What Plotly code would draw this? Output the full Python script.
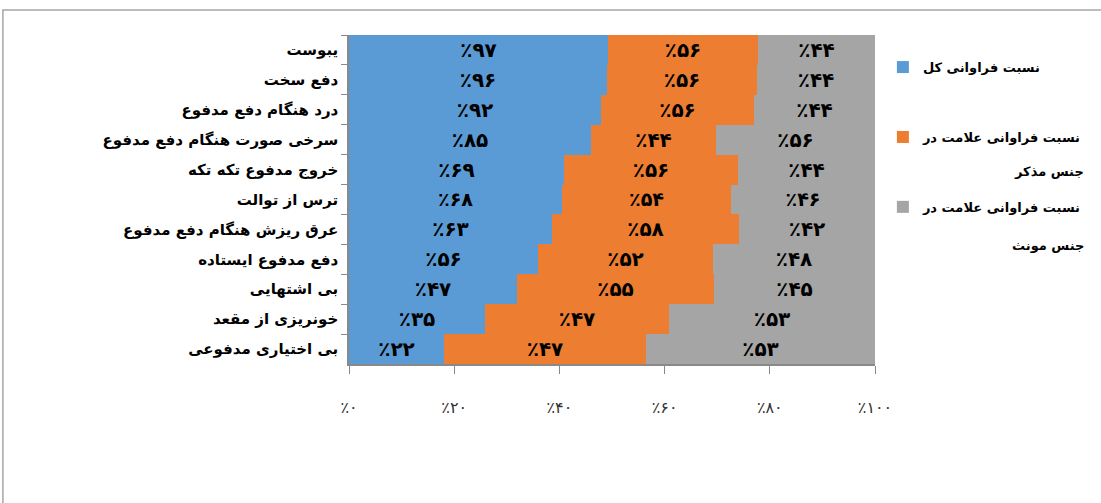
import plotly.graph_objects as go

# Symptoms (top to bottom) and frequencies per group
categories = [
    "یبوست",
    "دفع سخت",
    "درد هنگام دفع مدفوع",
    "سرخی صورت هنگام دفع مدفوع",
    "خروج مدفوع تکه تکه",
    "ترس از توالت",
    "عرق ریزش هنگام دفع مدفوع",
    "دفع مدفوع ایستاده",
    "بی اشتهایی",
    "خونریزی از مقعد",
    "بی اختیاری مدفوعی",
]
total_pct = [97, 96, 92, 85, 69, 68, 63, 56, 47, 35, 22]
male_pct = [56, 56, 56, 44, 56, 54, 58, 52, 55, 47, 47]
female_pct = [44, 44, 44, 56, 44, 46, 42, 48, 45, 53, 53]

series_names = [
    "نسبت فراوانی کل",
    "نسبت فراوانی علامت در",
    "نسبت فراوانی علامت در",
]
series_second_lines = ["", "جنس مذکر", "جنس مونث"]
x_ticks = [0, 20, 40, 60, 80, 100]

colors = ["#5B9BD5", "#ED7D31", "#A5A5A5"]

FA_DIGITS = str.maketrans("0123456789", "۰۱۲۳۴۵۶۷۸۹")


def fa_pct(v):
    return "٪" + str(v).translate(FA_DIGITS)


FONT = "DejaVu Sans"

fig = go.Figure()
for i, vals in enumerate([total_pct, male_pct, female_pct]):
    fig.add_trace(go.Bar(
        y=categories,
        x=vals,
        orientation="h",
        name="<b>" + series_names[i] + "</b>",
        legendgroup="g%d" % i,
        marker=dict(color=colors[i], line=dict(width=0)),
        text=[fa_pct(v) for v in vals],
        textposition="inside",
        insidetextanchor="middle",
        textangle=0,
        textfont=dict(family=FONT, size=20, color="black", weight="bold"),
        hoverinfo="skip",
    ))

# second lines of the two-line legend entries, right-aligned under the first line
annotations = []
for i, line in enumerate(series_second_lines):
    if not line:
        continue
    annotations.append(dict(
        text="<b>" + line + "</b>",
        xref="paper", yref="paper",
        x=1.401, y=[0, 0.5836, 0.3617][i],
        xanchor="right", yanchor="middle",
        showarrow=False,
        font=dict(family=FONT, size=13, color="black"),
    ))

fig.update_layout(
    width=1101, height=503,
    margin=dict(l=349, r=226, t=35, b=139),
    barmode="stack",
    barnorm="percent",
    bargap=0,
    plot_bgcolor="white",
    paper_bgcolor="white",
    font=dict(family=FONT, color="black"),
    showlegend=True,
    legend=dict(
        x=1.015, xanchor="left",
        y=0.948, yanchor="top",
        traceorder="grouped",
        tracegroupgap=50,
        itemwidth=30,
        font=dict(family=FONT, size=13, color="black"),
        bgcolor="rgba(0,0,0,0)",
    ),
    annotations=annotations,
    shapes=[dict(
        type="rect", xref="paper", yref="paper",
        x0=-0.658, x1=1.5, y0=-0.5, y1=1.076,
        line=dict(color="#A6A6A6", width=1.5),
        fillcolor="rgba(0,0,0,0)", layer="below",
    )],
)

fig.update_xaxes(
    range=[0, 100],
    tickvals=x_ticks,
    ticktext=[fa_pct(v) for v in x_ticks],
    ticks="outside", ticklen=8, tickcolor="#898989",
    showline=True, linecolor="#898989", linewidth=1.5,
    showgrid=False, zeroline=False,
    ticklabelstandoff=20,
    tickfont=dict(family=FONT, size=16, color="#333333"),
)
fig.update_yaxes(
    autorange="reversed",
    type="category",
    tickson="boundaries",
    ticks="outside", ticklen=6, tickcolor="#898989",
    showline=True, linecolor="#898989", linewidth=1.5,
    showgrid=False, zeroline=False,
    tickfont=dict(family=FONT, size=15, color="black", weight="bold"),
    ticklabelstandoff=6,
)

fig.write_html("out.html")
